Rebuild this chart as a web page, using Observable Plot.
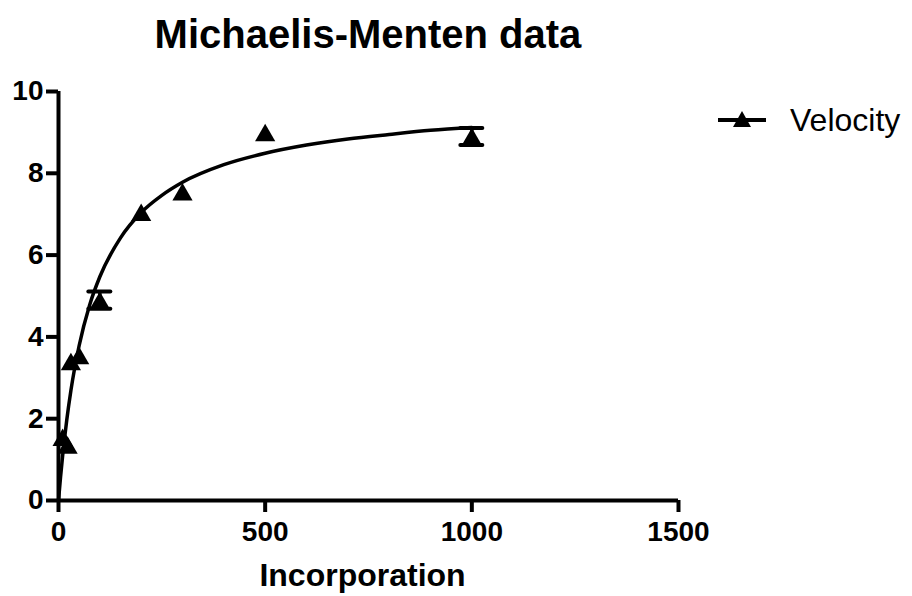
<!DOCTYPE html>
<html>
<head>
<meta charset="utf-8">
<script src="https://cdn.jsdelivr.net/npm/d3@7"></script>
<script src="https://cdn.jsdelivr.net/npm/@observablehq/plot@0.6"></script>
<style>
  html, body { margin: 0; padding: 0; background: #fff; }
  #wrap { position: relative; width: 912px; height: 596px; font-family: "Liberation Sans", Arial, sans-serif; }
  #title { height: 70px; line-height: 68px; width: 736px; text-align: center; font-weight: bold; font-size: 40px; color: #000; }
  #legend { position: absolute; left: 716px; top: 100px; display: flex; align-items: center; font-size: 32px; color: #000; }
  #legend svg { margin-right: 22px; }
</style>
</head>
<body>
<div id="wrap">
  <div id="title">Michaelis-Menten data</div>
  <div id="legend"><svg width="52" height="40"><line x1="2" y1="20" x2="50" y2="20" stroke="#000" stroke-width="4"/><polygon points="26,11 35,27 17,27" fill="#000"/></svg><span>Velocity</span></div>
  <div id="chart"></div>
</div>
<script>
// Measured points (x = substrate, y = velocity mean)
const pointX = [10, 22, 30, 50, 100, 200, 300, 500, 1000];
const pointY = [1.55, 1.36, 3.4, 3.55, 4.9, 7.05, 7.55, 9.0, 8.9];
// Error bars (SD)
const errX = [100, 1000];
const errMean = [4.9, 8.9];
const errSD = [0.21, 0.21];
// Fitted curve
const curveX = [0, 5, 10, 20, 30, 50, 75, 100, 150, 200, 250, 300, 400, 500, 600, 700, 800, 900, 1000];
const curveY = [0, 0.58, 1.09, 1.97, 2.69, 3.79, 4.77, 5.47, 6.42, 7.04, 7.46, 7.78, 8.21, 8.49, 8.69, 8.84, 8.95, 9.05, 9.12];
// Axis ticks
const xTicks = [0, 500, 1000, 1500];
const yTicks = [0, 2, 4, 6, 8, 10];

const points = pointX.map((x, i) => ({x, y: pointY[i]}));
const errs = errX.map((x, i) => ({x, lo: errMean[i] - errSD[i], hi: errMean[i] + errSD[i]}));
const curve = curveX.map((x, i) => ({x, y: curveY[i]}));

const chart = Plot.plot({
  width: 912,
  height: 526,
  marginLeft: 58,
  marginRight: 234,
  marginTop: 21,
  marginBottom: 96,
  style: {fontFamily: '"Liberation Sans", Arial, sans-serif', fontWeight: "bold", color: "#000", background: "#fff"},
  x: {domain: [0, 1500]},
  y: {domain: [0, 10]},
  marks: [
    Plot.axisX({ticks: xTicks, tickFormat: d3.format("d"), tickSize: 12, tickPadding: 9, strokeWidth: 4, fontSize: 28, fontWeight: "bold", label: null}),
    Plot.axisY({ticks: yTicks, tickFormat: d3.format("d"), tickSize: 12, tickPadding: 3, strokeWidth: 4, fontSize: 28, fontWeight: "bold", label: null}),
    Plot.ruleY([0], {strokeWidth: 4, stroke: "#000"}),
    Plot.ruleX([0], {strokeWidth: 4, stroke: "#000"}),
    Plot.text(["Incorporation"], {frameAnchor: "bottom", dy: 85, dx: -6, fontSize: 32, fontWeight: "bold", fill: "#000"}),
    Plot.line(curve, {x: "x", y: "y", curve: "monotone-x", stroke: "#000", strokeWidth: 3.5}),
    Plot.ruleX(errs, {x: "x", y1: "lo", y2: "hi", stroke: "#000", strokeWidth: 3.5}),
    Plot.ruleY(errs, {y: "hi", x1: "x", x2: "x", insetLeft: -11, insetRight: -11, stroke: "#000", strokeWidth: 4, strokeLinecap: "round"}),
    Plot.ruleY(errs, {y: "lo", x1: "x", x2: "x", insetLeft: -11, insetRight: -11, stroke: "#000", strokeWidth: 4, strokeLinecap: "round"}),
    Plot.dot(points, {x: "x", y: "y", symbol: "triangle", r: 7.5, dy: 3, fill: "#000", stroke: "none"})
  ]
});
document.getElementById("chart").appendChild(chart);
</script>
</body>
</html>
